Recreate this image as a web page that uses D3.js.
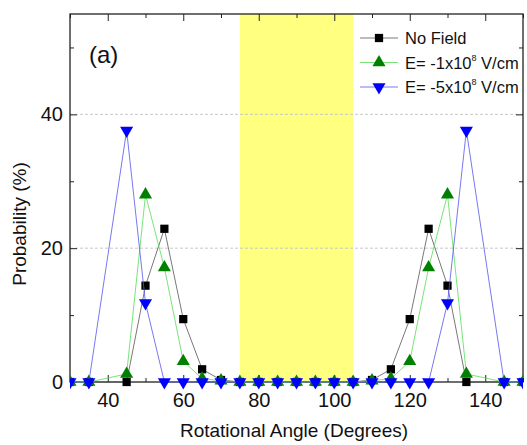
<!DOCTYPE html>
<html>
<head>
<meta charset="utf-8">
<script src="https://cdn.jsdelivr.net/npm/d3@7"></script>
<style>
  body { margin: 0; background: #fff; }
  text { font-family: "Liberation Sans", Arial, sans-serif; }
</style>
</head>
<body>
<script>
// angles in degrees (no sample at 40 and 140 in the figure)
var angles = [30, 35, 45, 50, 55, 60, 65, 70, 75, 80, 85, 90, 95, 100, 105,
              110, 115, 120, 125, 130, 135, 145, 150];
var noField = [0, 0, 0, 14.4, 22.9, 9.4, 1.9, 0.3, 0, 0, 0, 0, 0, 0, 0,
               0.3, 1.9, 9.4, 22.9, 14.4, 0, 0, 0];
var field1 = [0, 0, 1.2, 28, 17.1, 3.1, 0.5, 0.2, 0, 0, 0, 0, 0, 0, 0,
              0.2, 0.5, 3.1, 17.1, 28, 1.2, 0, 0];
var field5 = [0, 0, 37.6, 11.8, 0, 0, 0, 0, 0, 0, 0, 0, 0, 0, 0,
              0, 0, 0, 0, 11.8, 37.6, 0, 0];
var xTicks = [40, 60, 80, 100, 120, 140];
var yTicks = [0, 20, 40];
var band = [75, 105];

var W = 527, H = 445;
var mLeft = 70, mRight = 523, mTop = 14, mBottom = 382;

var svg = d3.select("body").append("svg")
  .attr("width", W).attr("height", H);

var x = d3.scaleLinear().domain([30, 150]).range([mLeft, mRight]);
var y = d3.scaleLinear().domain([0, 55]).range([mBottom, mTop]);

svg.append("defs").append("clipPath").attr("id", "clip")
  .append("rect").attr("x", mLeft).attr("y", mTop - 10)
  .attr("width", mRight - mLeft).attr("height", mBottom - mTop + 20);

// yellow band
svg.append("rect")
  .attr("x", x(band[0])).attr("y", mTop)
  .attr("width", x(band[1]) - x(band[0])).attr("height", mBottom - mTop)
  .attr("fill", "#ffff80");

// dashed grid lines
svg.selectAll(".grid").data([20, 40]).enter().append("line")
  .attr("x1", mLeft).attr("x2", mRight)
  .attr("y1", function(d){ return y(d); }).attr("y2", function(d){ return y(d); })
  .attr("stroke", "#c8c8c8").attr("stroke-width", 1)
  .attr("stroke-dasharray", "3,2");

// axes: ticks pointing inward
function styleAxis(g) {
  g.selectAll(".domain").remove();
  g.selectAll("line").attr("stroke", "#222");
  g.selectAll("text").attr("font-size", "20px").attr("fill", "#111");
}
var majorLen = 7, minorLen = 4;
var minorX = [30, 50, 70, 90, 110, 130, 150];

svg.append("g").attr("transform", "translate(0," + mBottom + ")")
  .call(d3.axisBottom(x).tickValues(minorX).tickSize(-minorLen).tickFormat(""))
  .call(styleAxis);
svg.append("g").attr("transform", "translate(0," + mBottom + ")")
  .call(d3.axisBottom(x).tickValues(xTicks).tickSize(-majorLen).tickPadding(11))
  .call(styleAxis);
svg.append("g").attr("transform", "translate(0," + mTop + ")")
  .call(d3.axisTop(x).tickValues(minorX).tickSize(-minorLen).tickFormat(""))
  .call(styleAxis);
svg.append("g").attr("transform", "translate(0," + mTop + ")")
  .call(d3.axisTop(x).tickValues(xTicks).tickSize(-majorLen).tickFormat(""))
  .call(styleAxis);
svg.append("g").attr("transform", "translate(" + mLeft + ",0)")
  .call(d3.axisLeft(y).tickValues([10, 30, 50]).tickSize(-minorLen).tickFormat(""))
  .call(styleAxis);
svg.append("g").attr("transform", "translate(" + mLeft + ",0)")
  .call(d3.axisLeft(y).tickValues(yTicks).tickSize(-majorLen).tickPadding(7))
  .call(styleAxis);
svg.append("g").attr("transform", "translate(" + mRight + ",0)")
  .call(d3.axisRight(y).tickValues([10, 30, 50]).tickSize(-minorLen).tickFormat(""))
  .call(styleAxis);
svg.append("g").attr("transform", "translate(" + mRight + ",0)")
  .call(d3.axisRight(y).tickValues(yTicks).tickSize(-majorLen).tickFormat(""))
  .call(styleAxis);

// frame
svg.append("rect").attr("x", mLeft).attr("y", mTop)
  .attr("width", mRight - mLeft).attr("height", mBottom - mTop)
  .attr("fill", "none").attr("stroke", "#222").attr("stroke-width", 1.3);

var series = [
  { name: "No Field", values: noField, line: "#555555", fill: "#000000", sym: d3.symbolSquare, size: 68, rot: 0 },
  { name: "E= -1x10", values: field1, line: "#55dd55", fill: "#008000", sym: d3.symbolTriangle, size: 74, rot: 0 },
  { name: "E= -5x10", values: field5, line: "#5555ee", fill: "#0000ff", sym: d3.symbolTriangle, size: 74, rot: 180 }
];

var line = d3.line()
  .x(function(d){ return x(d[0]); })
  .y(function(d){ return y(d[1]); });

var plot = svg.append("g").attr("clip-path", "url(#clip)");

series.forEach(function(s) {
  var pts = angles.map(function(a, i){ return [a, s.values[i]]; });
  plot.append("path").datum(pts)
    .attr("d", line)
    .attr("fill", "none")
    .attr("stroke", s.line)
    .attr("stroke-width", 0.8);
  plot.selectAll(null).data(pts).enter().append("path")
    .attr("d", d3.symbol().type(s.sym).size(s.size))
    .attr("transform", function(d){
      return "translate(" + x(d[0]) + "," + y(d[1]) + ") rotate(" + s.rot + ")";
    })
    .attr("fill", s.fill);
});

// legend
var legend = svg.append("g");
series.forEach(function(s, i) {
  var ly = 38 + i * 24.5;
  legend.append("line")
    .attr("x1", 360).attr("x2", 398).attr("y1", ly).attr("y2", ly)
    .attr("stroke", s.line).attr("stroke-width", 0.8);
  legend.append("path")
    .attr("d", d3.symbol().type(s.sym).size(s.size))
    .attr("transform", "translate(379," + ly + ") rotate(" + s.rot + ")")
    .attr("fill", s.fill);
  var t = legend.append("text")
    .attr("x", 405).attr("y", ly + 6)
    .attr("font-size", "16.5px").attr("fill", "#111")
    .text(s.name);
  if (i > 0) {
    t.append("tspan").attr("dy", -8).attr("font-size", "9px").text("8");
    t.append("tspan").attr("dy", 8).text(" V/cm");
  }
});

// panel label
svg.append("text").attr("x", 89).attr("y", 63)
  .attr("font-size", "24px").attr("fill", "#111").text("(a)");

// axis titles
svg.append("text")
  .attr("x", 294).attr("y", 437)
  .attr("text-anchor", "middle")
  .attr("font-size", "19px").attr("fill", "#111")
  .text("Rotational Angle (Degrees)");
svg.append("text")
  .attr("transform", "translate(26,224) rotate(-90)")
  .attr("text-anchor", "middle")
  .attr("font-size", "19px").attr("fill", "#111")
  .text("Probability (%)");
</script>
</body>
</html>
